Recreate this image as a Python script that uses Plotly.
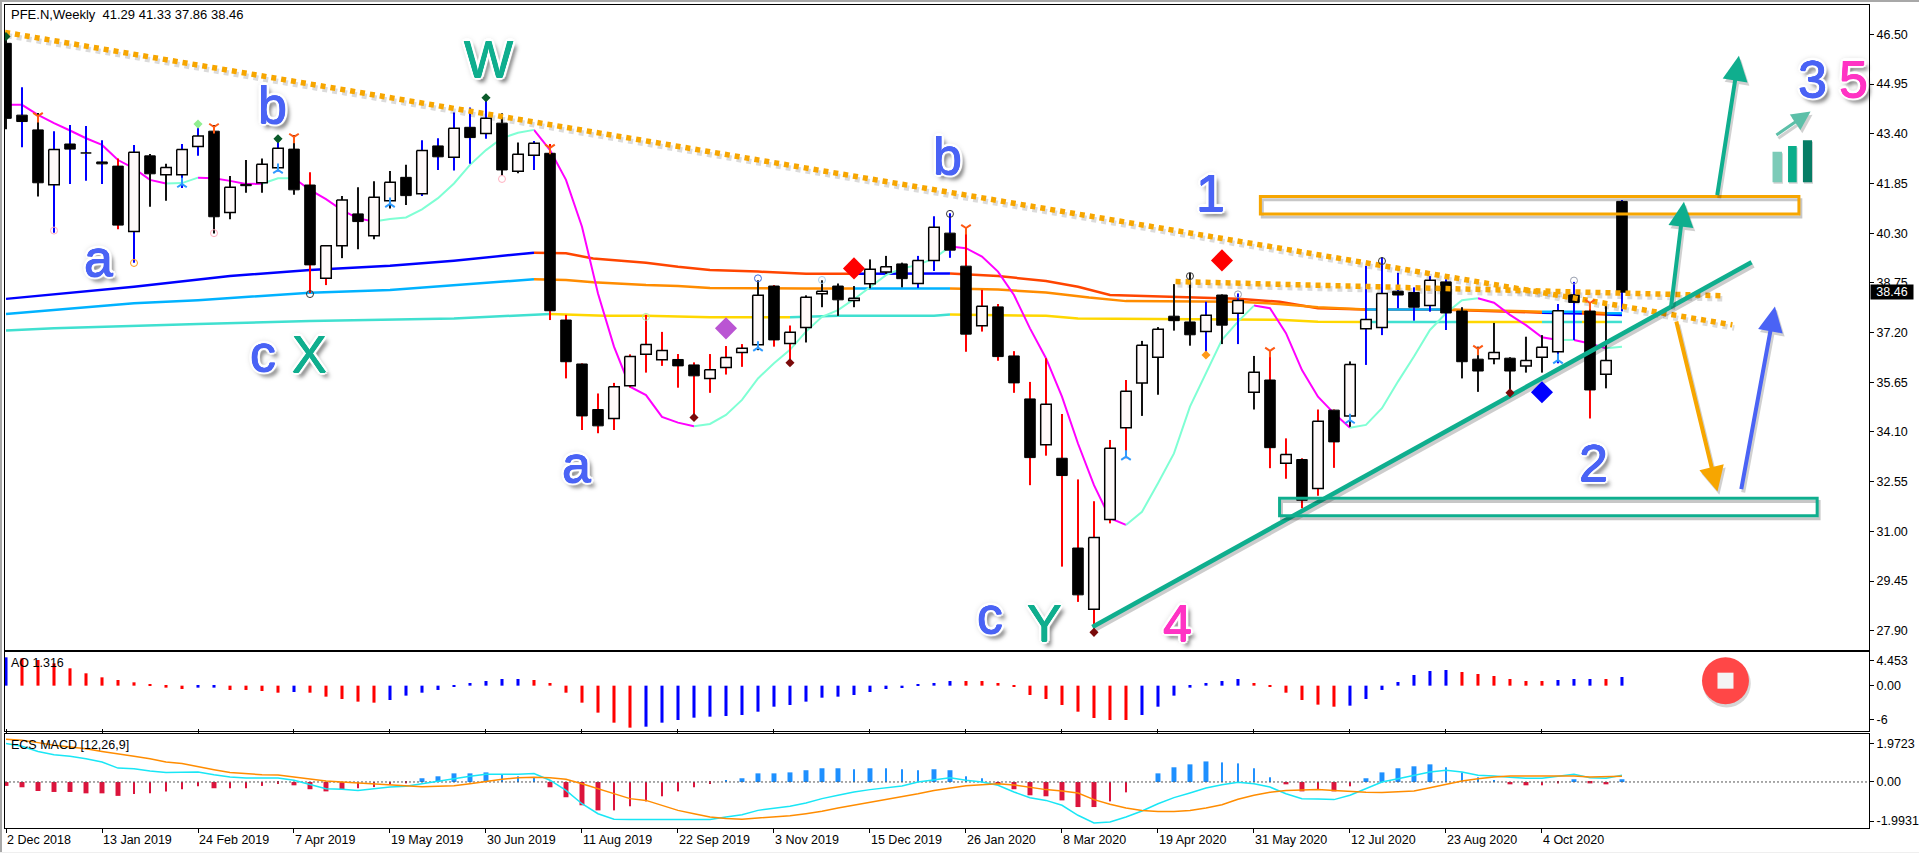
import plotly.graph_objects as go

# ---------- candles ----------
opens = [46.22,43.98,43.52,41.81,43.08,42.80,42.52,42.39,40.35,42.71,
42.12,42.12,43.00,43.48,40.94,41.82,41.87,42.34,42.92,41.80,
38.89,39.91,40.90,40.22,41.31,42.04,41.53,43.02,42.67,43.60,
43.41,43.73,42.23,42.73,42.79,37.59,36.22,34.80,34.52,35.54,
36.52,36.35,36.36,36.19,35.77,36.11,36.58,36.82,38.65,36.86,
37.36,38.41,38.65,38.20,38.72,39.09,39.34,38.73,39.45,40.30,
39.27,37.41,38.00,36.47,35.13,33.70,33.28,30.48,28.57,31.37,
34.23,35.63,36.43,37.71,37.53,37.23,38.37,37.80,35.34,35.72,
33.12,33.24,32.34,34.78,34.60,37.32,37.36,38.49,38.45,38.04,
38.78,37.87,36.37,36.38,36.40,36.16,36.43,36.60,38.38,37.87,
35.90,41.29]
closes = [43.88,43.78,41.87,42.91,42.92,42.78,42.46,40.55,42.82,42.15,
42.35,42.91,43.33,40.81,41.73,41.78,42.45,42.95,41.65,39.31,
39.91,41.33,40.66,41.42,41.89,41.47,42.88,42.68,43.57,43.28,
43.88,42.27,42.76,43.10,37.88,36.29,34.60,34.29,35.51,36.45,
36.83,36.64,36.16,35.85,36.04,36.42,36.71,38.36,36.97,37.21,
38.30,38.49,38.22,38.27,39.17,39.25,38.88,39.45,40.48,39.77,
37.15,38.02,36.45,35.63,33.30,34.96,32.74,29.02,30.81,33.59,
35.37,36.80,37.30,37.57,37.13,37.74,37.43,38.20,35.96,33.61,
33.40,31.97,34.43,33.79,36.20,37.61,38.42,38.37,37.99,38.83,
37.81,36.29,36.00,36.58,36.00,36.33,36.74,37.88,38.14,35.41,
36.33,38.46]
highs = [46.48,44.85,44.05,43.48,43.67,43.64,43.20,42.63,43.05,42.77,
42.46,43.08,43.73,43.67,42.08,42.58,42.63,43.24,43.36,42.20,
39.93,41.46,41.73,41.92,42.24,42.43,43.20,43.26,44.06,44.22,
44.61,44.04,43.13,43.17,43.08,37.75,36.24,35.30,35.63,36.52,
37.75,37.22,36.53,36.27,36.53,36.78,36.84,38.83,38.68,37.42,
38.36,38.83,38.73,38.65,39.48,39.59,39.38,39.59,40.83,40.92,
40.40,38.53,38.09,36.62,35.66,36.40,34.66,32.62,31.94,33.85,
35.72,36.94,37.37,38.71,39.06,38.16,38.39,38.42,36.47,36.65,
33.90,33.28,34.80,34.80,36.30,39.28,39.55,39.06,38.61,38.96,
38.86,37.99,36.76,37.50,36.43,37.07,37.12,38.09,38.78,38.11,
38.06,41.33]
lows = [43.54,42.98,41.44,40.31,41.83,41.93,41.83,40.42,39.38,41.12,
41.31,41.71,42.71,40.29,40.73,41.56,41.56,42.22,41.50,38.43,
38.68,39.52,39.80,40.11,41.07,41.18,41.46,42.27,42.25,42.46,
43.24,42.08,42.17,42.27,37.59,35.77,34.16,34.06,34.16,35.49,
35.95,36.16,35.48,34.54,35.32,35.89,36.13,36.65,36.76,36.24,
36.89,37.99,37.72,37.99,38.58,39.03,38.61,38.59,39.12,39.53,
36.60,37.23,36.32,35.32,32.44,33.36,29.90,28.80,27.85,31.25,
33.28,34.60,35.26,37.26,36.79,36.45,36.84,36.84,34.80,32.97,
32.64,31.72,32.11,32.98,34.26,36.19,37.12,37.96,37.57,37.85,
37.28,35.77,35.35,36.21,35.30,35.95,35.95,36.24,36.97,34.52,
35.46,37.86]
wick_kinds = ("KBKBBBBRBK" "KBBKKKKBKR" "RKKKKKBBBB" "BKKBRRRRRR" "RRRRRRRKRR"
              "KKKKKKKBBB" "RRRRRRRRRR" "RKKKKBKBKR" "RRRRKBBBBB" "BKKKKKKBBR" "KB")

x_tick_index = [0,6,12,18,24,30,36,42,48,54,60,66,72,78,84,90,96]
x_tick_text = ["2 Dec 2018","13 Jan 2019","24 Feb 2019","7 Apr 2019","19 May 2019","30 Jun 2019",
               "11 Aug 2019","22 Sep 2019","3 Nov 2019","15 Dec 2019","26 Jan 2020","8 Mar 2020",
               "19 Apr 2020","31 May 2020","12 Jul 2020","23 Aug 2020","4 Oct 2020"]
price_ticks = [46.50,44.95,43.40,41.85,40.30,38.75,37.20,35.65,34.10,32.55,31.00,29.45,27.90]

# ---------- moving averages: (bar index, price) ----------
slow_blue_1 = ([0,8,14,19,24,28,33],[38.25,38.63,38.96,39.15,39.28,39.44,39.69])
slow_red_1 = ([33,35,36.7,40,42,44,47,50,53],[39.69,39.67,39.51,39.38,39.25,39.15,39.10,39.03,39.03])
slow_blue_2 = ([53,59],[39.03,39.04])
slow_red_2 = ([59,62,65,67,69,73,77,79.6,82,85],[39.04,38.96,38.81,38.63,38.37,38.32,38.25,38.16,37.96,37.92])
slow_red_3 = ([85,90,96],[37.92,37.91,37.82])
slow_blue_3 = ([96,98.5],[37.82,37.79])
slow_red_4 = ([98.5,100],[37.79,37.76])
slow_blue_4 = ([100,101],[37.76,37.75])

mid_blue_1 = ([0,3,8,12,19,24,28,33],[37.78,37.90,38.11,38.21,38.44,38.53,38.68,38.86])
mid_orange_1 = ([33,35,36.7,40,42,44,50,53],[38.86,38.84,38.77,38.68,38.65,38.59,38.57,38.57])
mid_blue_2 = ([53,59],[38.57,38.57])
mid_orange_2 = ([59,62,65,67.7,70,73,77,79.6,82,85],[38.57,38.54,38.45,38.29,38.18,38.18,38.16,38.09,37.99,37.92])
mid_blue_3 = ([85,90],[37.92,37.92])
mid_orange_3 = ([90,96],[37.92,37.85])
mid_blue_4 = ([96,98.5],[37.85,37.85])
mid_orange_4 = ([98.5,100],[37.85,37.80])
mid_blue_5 = ([100,101],[37.80,37.80])

long_teal_1 = ([0,3,12,19,28,34],[37.26,37.33,37.47,37.56,37.64,37.78])
long_gold_1 = ([34,37.4,40,44,49],[37.78,37.72,37.72,37.68,37.68])
long_teal_2 = ([49,52,58,59],[37.68,37.72,37.72,37.76])
long_gold_2 = ([59,65,67,79.6,82,85],[37.76,37.72,37.64,37.60,37.54,37.53])
long_teal_3 = ([85,91],[37.53,37.53])
long_gold_3 = ([91,96],[37.53,37.53])
long_teal_4 = ([96,98.5],[37.53,37.53])
long_gold_4 = ([98.5,100],[37.53,37.53])
long_teal_5 = ([100,101],[37.53,37.53])

fast_down = [
 ([0,1,2,3,4,5,6,7,8,9,10],[44.30,44.30,43.99,43.73,43.50,43.26,43.05,42.58,42.32,41.96,41.85]),
 ([12,13,14,15,16],[42.03,42.01,41.93,41.83,41.84]),
 ([18,19,20,21,22,23],[42.01,41.65,41.36,41.02,40.76,40.66]),
 ([33,34,35,36,37,38,39,40,41,42,43],[43.52,42.89,41.96,40.50,38.42,36.76,35.51,35.25,34.57,34.39,34.28]),
 ([59,60,61,62,63,64,65,66,67,68,69,70],[39.88,39.83,39.57,39.10,38.37,37.33,36.40,35.20,33.74,32.44,31.41,31.20]),
 ([78,79,80,81,82,83,84],[38.04,37.96,37.18,36.03,35.20,34.68,34.23]),
 ([92,93,94,95,96,97],[38.27,38.13,37.75,37.43,37.05,36.97]),
 ([98,99,100],[36.97,36.86,36.71]),
]
fast_up = [
 ([10,11,12],[41.85,41.86,42.03]),
 ([16,17,18],[41.84,42.01,42.01]),
 ([23,24,25,26,27,28,29,30,31,32,33],[40.66,40.74,40.79,41.04,41.39,41.85,42.43,42.89,43.26,43.43,43.52]),
 ([43,44,45,46,47,48,49,50,51,52,53,54,55,56,57,58,59],[34.28,34.35,34.63,35.10,35.77,36.24,36.66,37.23,37.69,37.90,38.24,38.61,38.99,39.20,39.31,39.51,39.88]),
 ([70,71,72,73,74,75,76,77,78],[31.20,31.61,32.50,33.43,34.89,35.93,36.97,37.54,38.04]),
 ([84,85,86,87,88,89,90,91,92],[34.23,34.32,34.84,35.67,36.45,37.28,37.80,38.21,38.27]),
 ([97,98],[36.97,36.97]),
 ([100,101],[36.71,36.76]),
]

# ---------- drawn analysis ----------
resistance_main = ([-0.06,107.9],[46.56,37.44])
resistance_flat = ([73.1,107.2],[38.79,38.35])
support_line = ([67.9,109.1],[28.02,39.39])
orange_zone = (78.4,112.06,40.90,41.44)
green_zone = (79.6,113.2,31.49,32.03)
arrows = [
 (106.94,41.44,108.31,45.83,"#0FAE8E",4),
 (104.06,37.97,104.875,41.28,"#0FAE8E",4),
 (104.375,37.59,106.97,32.24,"#F7A600",4),
 (108.44,32.27,110.56,38.01,"#4A63F5",4),
 (110.56,43.33,112.79,44.09,"#5CBFA8",3),
]
icon_bars = [(110.41,111.0,42.84,"#7CCBB8"),(111.38,111.92,43.02,"#0AAE8B"),(112.31,112.88,43.20,"#067D65")]
icon_base = 41.89
labels = [
 ("a",5.75,39.53,"#4A63F5"),("b",16.66,44.30,"#4A63F5"),("W",30.16,45.73,"#0FAE8E"),
 ("c",16.06,36.56,"#4A63F5"),("X",18.94,36.52,"#0FAE8E"),("a",35.66,33.09,"#4A63F5"),
 ("b",58.84,42.72,"#4A63F5"),("c",61.5,28.40,"#4A63F5"),("Y",64.9,28.13,"#0FAE8E"),
 ("4",73.2,28.14,"#FF33C4"),("1",75.3,41.54,"#4A63F5"),("2",99.2,33.12,"#4A63F5"),
 ("3",112.9,45.11,"#4A63F5"),("5",115.5,45.11,"#FF33C4"),
]
big_diamonds = ([53,45,76,96],[39.20,37.33,39.45,35.34],["#FF0000","#BA55D3","#FF0000","#0000FF"])
sell_arrows = ([2,13,18,34,60,79,92,99],[43.95,43.61,43.30,42.96,40.46,36.63,36.69,38.12])
buy_arrows = ([11,17,24,47,70,84,97],[41.83,42.27,41.21,36.73,33.33,34.47,36.34])
rings = ([3,13,31,8,19,59,74,86,47,51,77,98,40],
         [40.38,40.30,41.99,39.37,38.40,40.90,38.96,39.43,38.89,38.84,38.39,38.82,37.69],
         ["#FFB0C0","#FFB0C0","#FFB0C0","#FF9A1A","#333333","#333333","#333333","#333333","#3A6AE0","#A8D0F0","#9AA0B0","#9AA0B0","#B5E8B5"])
dots = ([43,49,68,94,75,0,17,30,12],
        [34.55,36.26,27.85,35.32,36.50,46.43,43.24,44.52,43.70],
        ["#7A0A0A","#7A0A0A","#7A0A0A","#7A0A0A","#FF9A1A","#0A5A2A","#0A5A2A","#0A5A2A","#90EE90"])

# ---------- AO ----------
ao_values = [5.0,4.82,4.53,3.94,3.06,2.18,1.47,1.0,.59,.24,-.35,-.59,-.35,-.35,-.76,-.76,-.94,-1.24,-1.12,-1.24,
-1.94,-2.35,-2.82,-3.0,-2.53,-1.76,-1.24,-.76,-.18,.47,.82,1.18,1.18,1.0,.47,-1.24,-3.0,-4.76,-6.53,-7.41,
-7.24,-6.53,-6.06,-5.65,-5.47,-5.35,-5.18,-4.59,-3.71,-3.41,-2.82,-2.12,-1.94,-1.65,-1.12,-.59,-.41,.12,.47,.82,
.82,.82,.47,-.12,-1.65,-2.35,-3.41,-4.59,-5.71,-6.06,-6.06,-5.18,-3.71,-1.76,-.35,.47,.82,1.18,.47,-.18,
-1.24,-2.53,-3.35,-3.71,-3.53,-2.35,-.76,.65,1.88,2.59,2.76,2.41,2.06,1.71,1.18,.82,.82,1.0,1.18,1.18,1.18,1.53]
ao_kinds = ("B" "RRRRRRRRRRR" "BB" "RRRR" "B" "RRRRR" "BBBBBBBBB" "RRRRRRR" "BBBBBBBBBBBBBBBBBBBB"
            "RRRRRRRRRRR" "BBBBBBB" "RRRRRR" "BBBBBBB" "RRRRRR" "BBB" "R" "B")
ao_ticks = [4.453,0,-6]
ao_tick_text = ["4.453","0.00","-6"]
stop_icon = (107.47,0.88)

# ---------- MACD ----------
macd_hist = [-.20,-.27,-.46,-.51,-.51,-.58,-.58,-.71,-.61,-.58,-.48,-.37,-.22,-.32,-.32,-.32,-.20,-.10,-.17,-.37,
-.48,-.37,-.32,-.26,-.12,-.07,.19,.29,.44,.44,.49,.39,.29,.24,-.27,-.78,-1.19,-1.45,-1.45,-1.24,
-.99,-.73,-.48,-.27,-.10,.07,.19,.44,.44,.49,.60,.70,.70,.65,.70,.70,.65,.60,.65,.60,
.29,.19,-.12,-.37,-.68,-.73,-.94,-1.28,-1.28,-.99,-.53,0,.44,.75,.90,1.05,1.00,.95,.70,.24,
-.12,-.48,-.37,-.48,-.22,.19,.49,.70,.80,.90,.75,.49,.24,.09,-.12,-.17,-.17,-.07,.14,-.07,-.12,.14]
macd_thick = ("TTTTTTTT" "ttttt" "T" "tttt" "TTTT" "tttt" "TTTTT" "ttt" "TTTT" "tttttttt" "TTTTTTT" "t" "T" "ttt"
              "TT" "tt" "TTTTTTT" "ttt" "TTTT" "tttt" "TT" "t" "T" "t" "TTTTT" "tttt" "TT" "tt" "TTTT")
macd_fast = [1.96,1.82,1.56,1.39,1.31,1.19,1.02,.71,.68,.56,.49,.49,.51,.37,.26,.20,.19,.20,.09,-.14,
-.34,-.37,-.43,-.34,-.26,-.22,-.09,.03,.17,.29,.39,.39,.39,.43,.09,-.43,-1.11,-1.62,-1.90,-1.92,
-1.92,-1.92,-1.92,-1.92,-1.92,-1.79,-1.67,-1.45,-1.36,-1.24,-1.07,-.85,-.68,-.51,-.39,-.29,-.20,0,.12,.22,
.09,0,-.17,-.51,-.80,-.94,-1.19,-1.70,-2.09,-2.04,-1.79,-1.48,-1.11,-.80,-.56,-.31,-.14,-.02,-.09,-.26,
-.60,-.85,-.87,-.90,-.68,-.34,0,.17,.34,.51,.60,.51,.34,.31,.24,.19,.19,.29,.39,.22,.19,.34]
macd_signal = [2.18,2.13,2.01,1.87,1.79,1.70,1.56,1.45,1.31,1.19,1.02,.94,.80,.63,.48,.43,.37,.36,.26,.14,
.05,0,-.05,-.10,-.17,-.20,-.24,-.22,-.19,-.09,.03,.14,.22,.24,.22,.14,-.09,-.34,-.60,-.85,
-.94,-1.19,-1.45,-1.62,-1.79,-1.87,-1.90,-1.84,-1.79,-1.73,-1.62,-1.50,-1.33,-1.19,-1.04,-.90,-.73,-.60,-.43,-.31,
-.19,-.14,-.09,-.15,-.26,-.39,-.46,-.56,-.90,-1.14,-1.33,-1.45,-1.51,-1.51,-1.45,-1.33,-1.16,-.88,-.68,-.53,
-.44,-.43,-.39,-.43,-.48,-.53,-.54,-.51,-.46,-.29,-.12,.05,.17,.26,.31,.31,.31,.31,.31,.26,.26,.29]
macd_ticks = [1.9723,0,-1.9931]
macd_tick_text = ["1.9723","0.00","-1.9931"]

header_text = "PFE.N,Weekly\u00a0\u00a041.29 41.33 37.86 38.46"
last_price = 38.46
ao_title = "AO 1.316"
macd_title = "ECS MACD [12,26,9]"

# ---------- layout helpers ----------
W, H = 1919, 853
X_RANGE = [-0.0625, 116.44]
MAIN_RANGE = [27.30, 47.43]
AO_RANGE = [-8.0, 5.94]
MACD_RANGE = [-2.35, 2.45]
FONT = "Liberation Sans"
BODY = 0.33
DROP_P, DROP_X = 0.10, 0.12   # soft shadow offset, in axis units
DOTS = "5px,5px"


def dom(top, bottom):
    return [1 - bottom / H, 1 - top / H]


fig = go.Figure()
idx = list(range(len(opens)))


def line(seg, color, width=2, yaxis="y", dash=None):
    fig.add_trace(go.Scatter(x=seg[0], y=seg[1], mode="lines", yaxis=yaxis, hoverinfo="skip",
                             line=dict(color=color, width=width, dash=dash)))


for seg in (slow_blue_1, slow_blue_2, slow_blue_3, slow_blue_4):
    line(seg, "#0000FF", 2.5)
for seg in (slow_red_1, slow_red_2, slow_red_3, slow_red_4):
    line(seg, "#FF4500", 2.5)
for seg in (mid_blue_1, mid_blue_2, mid_blue_3, mid_blue_4, mid_blue_5):
    line(seg, "#00B2FF", 2.5)
for seg in (mid_orange_1, mid_orange_2, mid_orange_3, mid_orange_4):
    line(seg, "#FF8C00", 2.5)
for seg in (long_teal_1, long_teal_2, long_teal_3, long_teal_4, long_teal_5):
    line(seg, "#40E0D0", 2.5)
for seg in (long_gold_1, long_gold_2, long_gold_3, long_gold_4):
    line(seg, "#FFD700", 2.5)
for seg in fast_down:
    line(seg, "#FF00FF", 2)
for seg in fast_up:
    line(seg, "#7FFFD4", 2)

# wicks, split above and below the body so the body stays clean
wick_palette = {"K": "#111111", "B": "#0000FF", "R": "#FF0000"}
for kind, colour in wick_palette.items():
    xs, ys = [], []
    for i in idx:
        if wick_kinds[i] != kind:
            continue
        top, bot = max(opens[i], closes[i]), min(opens[i], closes[i])
        xs += [i, i, None, i, i, None]
        ys += [highs[i], top, None, bot, lows[i], None]
    fig.add_trace(go.Scatter(x=xs, y=ys, mode="lines", hoverinfo="skip", line=dict(color=colour, width=2)))


def bodies(test, fill, lw):
    xs, ys = [], []
    for i in idx:
        if test(i):
            top, bot = max(opens[i], closes[i]), min(opens[i], closes[i])
            xs += [i - BODY, i + BODY, i + BODY, i - BODY, i - BODY, None]
            ys += [top, top, bot, bot, top, None]
    fig.add_trace(go.Scatter(x=xs, y=ys, mode="lines", fill="toself", fillcolor=fill, hoverinfo="skip",
                             line=dict(color="#000000", width=lw)))


bodies(lambda i: closes[i] < opens[i], "#000000", 1)
bodies(lambda i: closes[i] >= opens[i], "#FFFAFA", 1.5)

# trend lines with soft shadow
for seg in (resistance_main, resistance_flat):
    line(([v + DROP_X for v in seg[0]], [v - DROP_P for v in seg[1]]), "rgba(0,0,0,0.14)", 5.5, dash=DOTS)
for seg in (resistance_main, resistance_flat):
    line(seg, "#F7A600", 5.5, dash=DOTS)
line(([v + DROP_X for v in support_line[0]], [v - DROP_P for v in support_line[1]]), "rgba(0,0,0,0.2)", 4.5)
line(support_line, "#0FAE8E", 4.5)

# signal markers
fig.add_trace(go.Scatter(x=big_diamonds[0], y=big_diamonds[1], mode="markers", hoverinfo="skip",
                         marker=dict(symbol="diamond", size=17, color=big_diamonds[2])))
fig.add_trace(go.Scatter(x=sell_arrows[0], y=sell_arrows[1], mode="markers", hoverinfo="skip",
                         marker=dict(symbol="y-down", size=8, line=dict(color="#FF5A14", width=2))))
fig.add_trace(go.Scatter(x=buy_arrows[0], y=buy_arrows[1], mode="markers", hoverinfo="skip",
                         marker=dict(symbol="y-up", size=8, line=dict(color="#2E9BFF", width=2))))
fig.add_trace(go.Scatter(x=rings[0], y=rings[1], mode="markers", hoverinfo="skip",
                         marker=dict(symbol="circle-open", size=7, color=rings[2], line=dict(color=rings[2], width=1))))
fig.add_trace(go.Scatter(x=dots[0], y=dots[1], mode="markers", hoverinfo="skip",
                         marker=dict(symbol="diamond", size=7, color=dots[2])))

# AO pane
fig.add_trace(go.Bar(x=idx, y=ao_values, yaxis="y2", width=0.19, hoverinfo="skip",
                     marker=dict(color=["#0000FF" if k == "B" else "#FF0000" for k in ao_kinds], line=dict(width=0))))
fig.add_trace(go.Scatter(x=[stop_icon[0] + 0.08], y=[stop_icon[1] - 0.5], yaxis="y2", mode="markers", hoverinfo="skip",
                         marker=dict(symbol="circle", size=48, color="rgba(0,0,0,0.16)")))
fig.add_trace(go.Scatter(x=[stop_icon[0]], y=[stop_icon[1]], yaxis="y2", mode="markers", hoverinfo="skip",
                         marker=dict(symbol="circle", size=47, color="#FF4747")))
fig.add_trace(go.Scatter(x=[stop_icon[0]], y=[stop_icon[1]], yaxis="y2", mode="markers", hoverinfo="skip",
                         marker=dict(symbol="square", size=16, color="#F4F4F4")))

# MACD pane
fig.add_trace(go.Bar(x=idx, y=macd_hist, yaxis="y3", hoverinfo="skip",
                     width=[0.31 if k == "T" else 0.125 for k in macd_thick],
                     marker=dict(color=["#1E90FF" if v >= 0 else "#DC143C" for v in macd_hist], line=dict(width=0))))
line((X_RANGE, [0, 0]), "#555555", 1, yaxis="y3", dash="2px,2px")
line((idx, macd_fast), "#19E6F5", 1.5, yaxis="y3")
line((idx, macd_signal), "#FF8C00", 1.5, yaxis="y3")

# zones and icon
shapes = []
for x0, x1, y0, y1, colour in (orange_zone + ("#F7A600",), green_zone + ("#0FAE8E",)):
    shapes.append(dict(type="rect", xref="x", yref="y", x0=x0 + DROP_X, x1=x1 + DROP_X, y0=y0 - DROP_P, y1=y1 - DROP_P,
                       line=dict(color="rgba(0,0,0,0.22)", width=3), layer="above"))
    shapes.append(dict(type="rect", xref="x", yref="y", x0=x0, x1=x1, y0=y0, y1=y1,
                       line=dict(color=colour, width=3), layer="above"))
for x0, x1, top, colour in icon_bars:
    shapes.append(dict(type="rect", xref="x", yref="y", x0=x0 + DROP_X / 2, x1=x1 + DROP_X / 2, y0=icon_base - DROP_P / 2, y1=top - DROP_P / 2,
                       line=dict(width=0), fillcolor="rgba(0,0,0,0.18)", layer="above"))
    shapes.append(dict(type="rect", xref="x", yref="y", x0=x0, x1=x1, y0=icon_base, y1=top,
                       line=dict(width=0), fillcolor=colour, layer="above"))
# window edges around the chart
for x0, x1, y0, y1 in ((0, 2 / W, 0, 1), (0, 1, 1 - 2 / H, 1)):
    shapes.append(dict(type="rect", xref="paper", yref="paper", x0=x0, x1=x1, y0=y0, y1=y1,
                       line=dict(width=0), fillcolor="#A8A8A8", layer="above"))
shapes.append(dict(type="rect", xref="paper", yref="paper", x0=0, x1=1, y0=0, y1=1 / H,
                   line=dict(width=0), fillcolor="#EFEFEF", layer="above"))

annotations = []
for x0, y0, x1, y1, colour, width in arrows:
    annotations.append(dict(x=x1 + DROP_X, y=y1 - DROP_P, ax=x0 + DROP_X, ay=y0 - DROP_P, xref="x", yref="y", axref="x", ayref="y",
                            text="", showarrow=True, arrowhead=2, arrowsize=1.25, arrowwidth=width, arrowcolor="rgba(0,0,0,0.18)"))
    annotations.append(dict(x=x1, y=y1, ax=x0, ay=y0, xref="x", yref="y", axref="x", ayref="y",
                            text="", showarrow=True, arrowhead=2, arrowsize=1.25, arrowwidth=width, arrowcolor=colour))
halo = ",".join(f"{a}px {b}px 1px #fff" for a, b in ((3, 0), (-3, 0), (0, 3), (0, -3), (2, 2), (-2, -2), (2, -2), (-2, 2))) \
       + ",4px 5px 4px rgba(0,0,0,.55),0 0 6px rgba(0,0,0,.35)"
for text, x, y, colour in labels:
    body = ",".join(f"{a}px {b}px 0 {colour}" for a, b in ((.5, 0), (-.5, 0), (0, .5), (0, -.5)))
    annotations.append(dict(x=x, y=y, xref="x", yref="y", text=text, showarrow=False, xanchor="center", yanchor="middle",
                            font=dict(family=FONT, size=52, color=colour, shadow=body + "," + halo)))
annotations += [
    dict(x=9 / W, y=1 - 14.7 / H, xref="paper", yref="paper", text=header_text, showarrow=False, xanchor="left", yanchor="middle",
         font=dict(family=FONT, size=13, color="#000000")),
    dict(x=9 / W, y=1 - 663 / H, xref="paper", yref="paper", text=ao_title, showarrow=False, xanchor="left", yanchor="middle",
         font=dict(family=FONT, size=12.5, color="#000000")),
    dict(x=9 / W, y=1 - 745 / H, xref="paper", yref="paper", text=macd_title, showarrow=False, xanchor="left", yanchor="middle",
         font=dict(family=FONT, size=12.5, color="#000000")),
    dict(x=1892 / W, y=last_price, xref="paper", yref="y", text=f"{last_price:.2f}", showarrow=False, xanchor="center", yanchor="middle",
         bgcolor="#000000", width=42, height=14, borderpad=0, font=dict(family=FONT, size=12.5, color="#FFFFFF")),
]

axis_common = dict(showgrid=False, zeroline=False, side="right", anchor="x", showline=True, mirror=True, linecolor="#000000",
                   linewidth=1, ticks="outside", ticklen=4, tickcolor="#000000", tickfont=dict(family=FONT, size=12.5, color="#000000"))
fig.update_layout(
    width=W, height=H, margin=dict(l=0, r=0, t=0, b=0, pad=0),
    paper_bgcolor="#FFFFFF", plot_bgcolor="#FFFFFF", showlegend=False, barmode="overlay",
    shapes=shapes, annotations=annotations,
    xaxis=dict(domain=[5 / W, 1869 / W], range=X_RANGE, anchor="y3", showgrid=False, zeroline=False,
               showline=True, mirror="all", linecolor="#000000", linewidth=1, ticks="outside", ticklen=4, tickcolor="#000000",
               tickmode="array", tickvals=x_tick_index, ticktext=x_tick_text, ticklabelposition="outside right",
               tickfont=dict(family=FONT, size=12.5, color="#000000")),
    yaxis=dict(domain=dom(4.5, 650), range=MAIN_RANGE, tickmode="array", tickvals=price_ticks,
               ticktext=[f"{v:.2f}" for v in price_ticks], **axis_common),
    yaxis2=dict(domain=dom(652, 731), range=AO_RANGE, tickmode="array", tickvals=ao_ticks, ticktext=ao_tick_text, **axis_common),
    yaxis3=dict(domain=dom(734, 828), range=MACD_RANGE, tickmode="array", tickvals=macd_ticks, ticktext=macd_tick_text, **axis_common),
)

fig.write_html("out.html", config={"displayModeBar": False},
               post_script="document.body.style.margin='0';document.body.style.overflow='hidden';")
